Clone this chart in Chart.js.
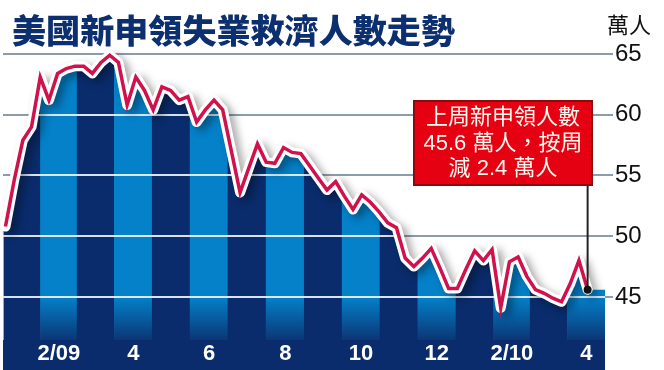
<!DOCTYPE html>
<html>
<head>
<meta charset="utf-8">
<script src="https://cdn.jsdelivr.net/npm/chart.js@4.4.1/dist/chart.umd.min.js"></script>
<style>
  html, body { margin: 0; padding: 0; background: #fff; }
</style>
</head>
<body>
<canvas id="chart" width="664" height="370"></canvas>
<script>
// weekly initial claims, 萬人, weeks ending 2009-01-03 .. 2010-04-17
const firstWeekEnding = '2009-01-03';
const claims = [
  50.8, 54.6, 57.9, 59.0, 63.1, 61.2, 63.4, 63.8, 64.0, 64.0,
  63.4, 64.3, 64.9, 64.3, 60.8, 63.1, 62.0, 60.4, 62.3, 62.0,
  61.2, 61.5, 59.4, 60.4, 61.2, 60.4, 57.0, 53.6, 55.6, 57.6,
  56.1, 56.0, 57.3, 56.9, 56.8, 55.8, 54.8, 53.8, 54.5, 53.3,
  52.2, 53.4, 52.8, 52.0, 51.1, 50.7, 48.2, 47.5, 48.2, 49.0,
  47.4, 45.7, 45.7, 47.3, 48.8, 48.0, 48.9, 44.1, 47.9, 48.3,
  46.7, 45.6, 45.3, 44.9, 44.6, 46.1, 48.0, 45.6
];
const bandMonths = [
  '2009-01', '2009-02', '2009-03', '2009-04', '2009-05', '2009-06', '2009-07', '2009-08',
  '2009-09', '2009-10', '2009-11', '2009-12', '2010-01', '2010-02', '2010-03', '2010-04'
];
const tickMonths = ['2009-02', '2009-04', '2009-06', '2009-08', '2009-10', '2009-12', '2010-02', '2010-04'];
const tickLabels = ['2/09', '4', '6', '8', '10', '12', '2/10', '4'];
const yTicks = [45, 50, 55, 60, 65];
const titleText = '美國新申領失業救濟人數走勢';
const unitText = '萬人';
const noteLines = ['上周新申領人數', '45.6 萬人，按周', '減 2.4 萬人'];

const Y_MIN = 41.46, Y_MAX = 65;
const NAVY = '#0a2c6c', LIGHT = '#0481c9', RED = '#d1114b';

const DAY = 86400000;
const ORIGIN = Date.UTC(2009, 0, 1);
function dayOf(y, m, d) { return (Date.UTC(y, m, d) - ORIGIN) / DAY; }
function monthStart(s) { const [y, m] = s.split('-').map(Number); return dayOf(y, m - 1, 1); }
function monthEnd(s) { const [y, m] = s.split('-').map(Number); return dayOf(y, m, 1); }
function monthCenter(s) { return (monthStart(s) + monthEnd(s)) / 2; }
const [fy, fm, fd] = firstWeekEnding.split('-').map(Number);
const firstDay = dayOf(fy, fm - 1, fd);

const linePoints = claims.map((v, i) => ({ x: firstDay + 7 * i, y: v }));
const bandData = bandMonths.map(m => ({ x: monthCenter(m), y: [Y_MIN, Y_MAX] }));

function lightFill(chart) {
  const area = chart.chartArea;
  if (!area) return LIGHT;
  const y = chart.scales.y;
  const g = chart.ctx.createLinearGradient(0, y.getPixelForValue(45), 0, area.bottom);
  g.addColorStop(0, LIGHT);
  g.addColorStop(1, '#0b3676');
  return g;
}

const decor = {
  id: 'decor',
  beforeDraw(chart) {
    const { ctx, chartArea, width, height } = chart;
    ctx.save();
    ctx.fillStyle = '#fff';
    ctx.fillRect(0, 0, width, height);
    ctx.fillStyle = NAVY;
    ctx.fillRect(chartArea.left, chartArea.bottom, chartArea.right - chartArea.left, height - chartArea.bottom);
    ctx.restore();
  },
  beforeDatasetDraw(chart, args) {
    const ctx = chart.ctx;
    if (args.index === 0) {
      // only show the monthly bands below the claims line
      const area = chart.chartArea;
      const pts = chart.getDatasetMeta(2).data;
      ctx.save();
      ctx.beginPath();
      ctx.moveTo(area.left, area.bottom);
      ctx.lineTo(area.left, pts[0].y);
      pts.forEach(p => ctx.lineTo(p.x, p.y));
      ctx.lineTo(area.right, pts[pts.length - 1].y);
      ctx.lineTo(area.right, area.bottom);
      ctx.closePath();
      ctx.clip();
    } else if (args.index === 1) {
      ctx.save();
      ctx.shadowColor = 'rgba(0,0,0,0.36)';
      ctx.shadowBlur = 8;
      ctx.shadowOffsetX = 5;
      ctx.shadowOffsetY = 4;
    }
  },
  afterDatasetDraw(chart, args) {
    const ctx = chart.ctx;
    if (args.index === 0) {
      const area = chart.chartArea, y = chart.scales.y;
      ctx.strokeStyle = 'rgba(236,242,250,0.92)';
      ctx.lineWidth = 2;
      yTicks.forEach(v => {
        const py = Math.round(y.getPixelForValue(v));
        ctx.beginPath();
        ctx.moveTo(area.left, py);
        ctx.lineTo(area.right, py);
        ctx.stroke();
      });
      ctx.restore();
    } else if (args.index === 1) {
      ctx.restore();
    }
  },
  afterDraw(chart) {
    const ctx = chart.ctx;
    ctx.save();
    // title, stretched wide like the original
    ctx.font = '900 33px "Noto Sans CJK TC"';
    const w = ctx.measureText(titleText).width;
    ctx.translate(12, 43);
    ctx.scale(443 / w, 1);
    ctx.fillStyle = '#0c2f6f';
    ctx.textBaseline = 'alphabetic';
    ctx.fillText(titleText, 0, 0);
    ctx.restore();

    ctx.save();
    ctx.font = '22px "Noto Sans CJK TC"';
    ctx.fillStyle = '#111';
    ctx.textBaseline = 'alphabetic';
    ctx.fillText(unitText, 607, 33);

    // callout
    const pts = chart.getDatasetMeta(2).data;
    const last = pts[pts.length - 1];
    ctx.strokeStyle = '#222';
    ctx.lineWidth = 2;
    ctx.beginPath();
    ctx.moveTo(last.x, 186);
    ctx.lineTo(last.x, last.y);
    ctx.stroke();
    ctx.fillStyle = '#111';
    ctx.beginPath();
    ctx.arc(last.x, last.y, 4, 0, Math.PI * 2);
    ctx.fill();

    ctx.fillStyle = '#e50012';
    ctx.fillRect(413, 100, 180, 86);
    ctx.strokeStyle = '#8e0a0a';
    ctx.lineWidth = 2;
    ctx.strokeRect(414, 101, 178, 84);
    ctx.fillStyle = '#fff8ee';
    ctx.font = '22px "Liberation Sans", "Noto Sans CJK TC"';
    ctx.textAlign = 'center';
    ctx.textBaseline = 'middle';
    const ys = [118, 144, 169];
    noteLines.forEach((t, i) => ctx.fillText(t, 503, ys[i]));
    ctx.restore();
  }
};

new Chart(document.getElementById('chart'), {
  type: 'line',
  data: {
    datasets: [
      {
        type: 'bar',
        data: bandData,
        backgroundColor: c => {
          const m = Number(bandMonths[c.dataIndex].split('-')[1]);
          return m % 2 === 0 ? lightFill(c.chart) : NAVY;
        },
        borderWidth: 0,
        barThickness: 'flex',
        barPercentage: 1,
        categoryPercentage: 1,
        order: 3
      },
      {
        data: linePoints,
        borderColor: '#ffffff',
        borderWidth: 10,
        borderJoinStyle: 'round',
        borderCapStyle: 'round',
        pointRadius: 0,
        tension: 0,
        clip: false,
        order: 2
      },
      {
        data: linePoints,
        borderColor: RED,
        borderWidth: 3.5,
        borderJoinStyle: 'miter',
        pointRadius: 0,
        tension: 0,
        clip: false,
        order: 1
      }
    ]
  },
  options: {
    responsive: false,
    animation: false,
    devicePixelRatio: 1,
    layout: { padding: { top: 54, left: 3, right: 0, bottom: 0 } },
    plugins: { legend: { display: false }, tooltip: { enabled: false } },
    scales: {
      x: {
        type: 'linear',
        min: 0,
        max: 485,
        offset: false,
        grid: { display: false, drawTicks: false },
        border: { display: false },
        ticks: {
          autoSkip: false,
          maxRotation: 0,
          padding: 1,
          color: '#ffffff',
          font: { family: 'Liberation Sans', size: 22, weight: 'bold' },
          callback: (v, i) => tickLabels[i]
        },
        afterBuildTicks: s => { s.ticks = tickMonths.map(m => ({ value: monthCenter(m) })); },
        afterFit: s => { s.height = 30; }
      },
      y: {
        position: 'right',
        min: Y_MIN,
        max: Y_MAX,
        grid: { color: '#8d9cab', lineWidth: 2, tickLength: 8, drawTicks: true },
        border: { display: false },
        ticks: {
          padding: 2,
          color: '#111',
          font: { family: 'Liberation Sans', size: 24 }
        },
        afterBuildTicks: s => { s.ticks = yTicks.map(v => ({ value: v })); },
        afterFit: s => { s.width = 59; }
      }
    }
  },
  plugins: [decor]
});
</script>
</body>
</html>
